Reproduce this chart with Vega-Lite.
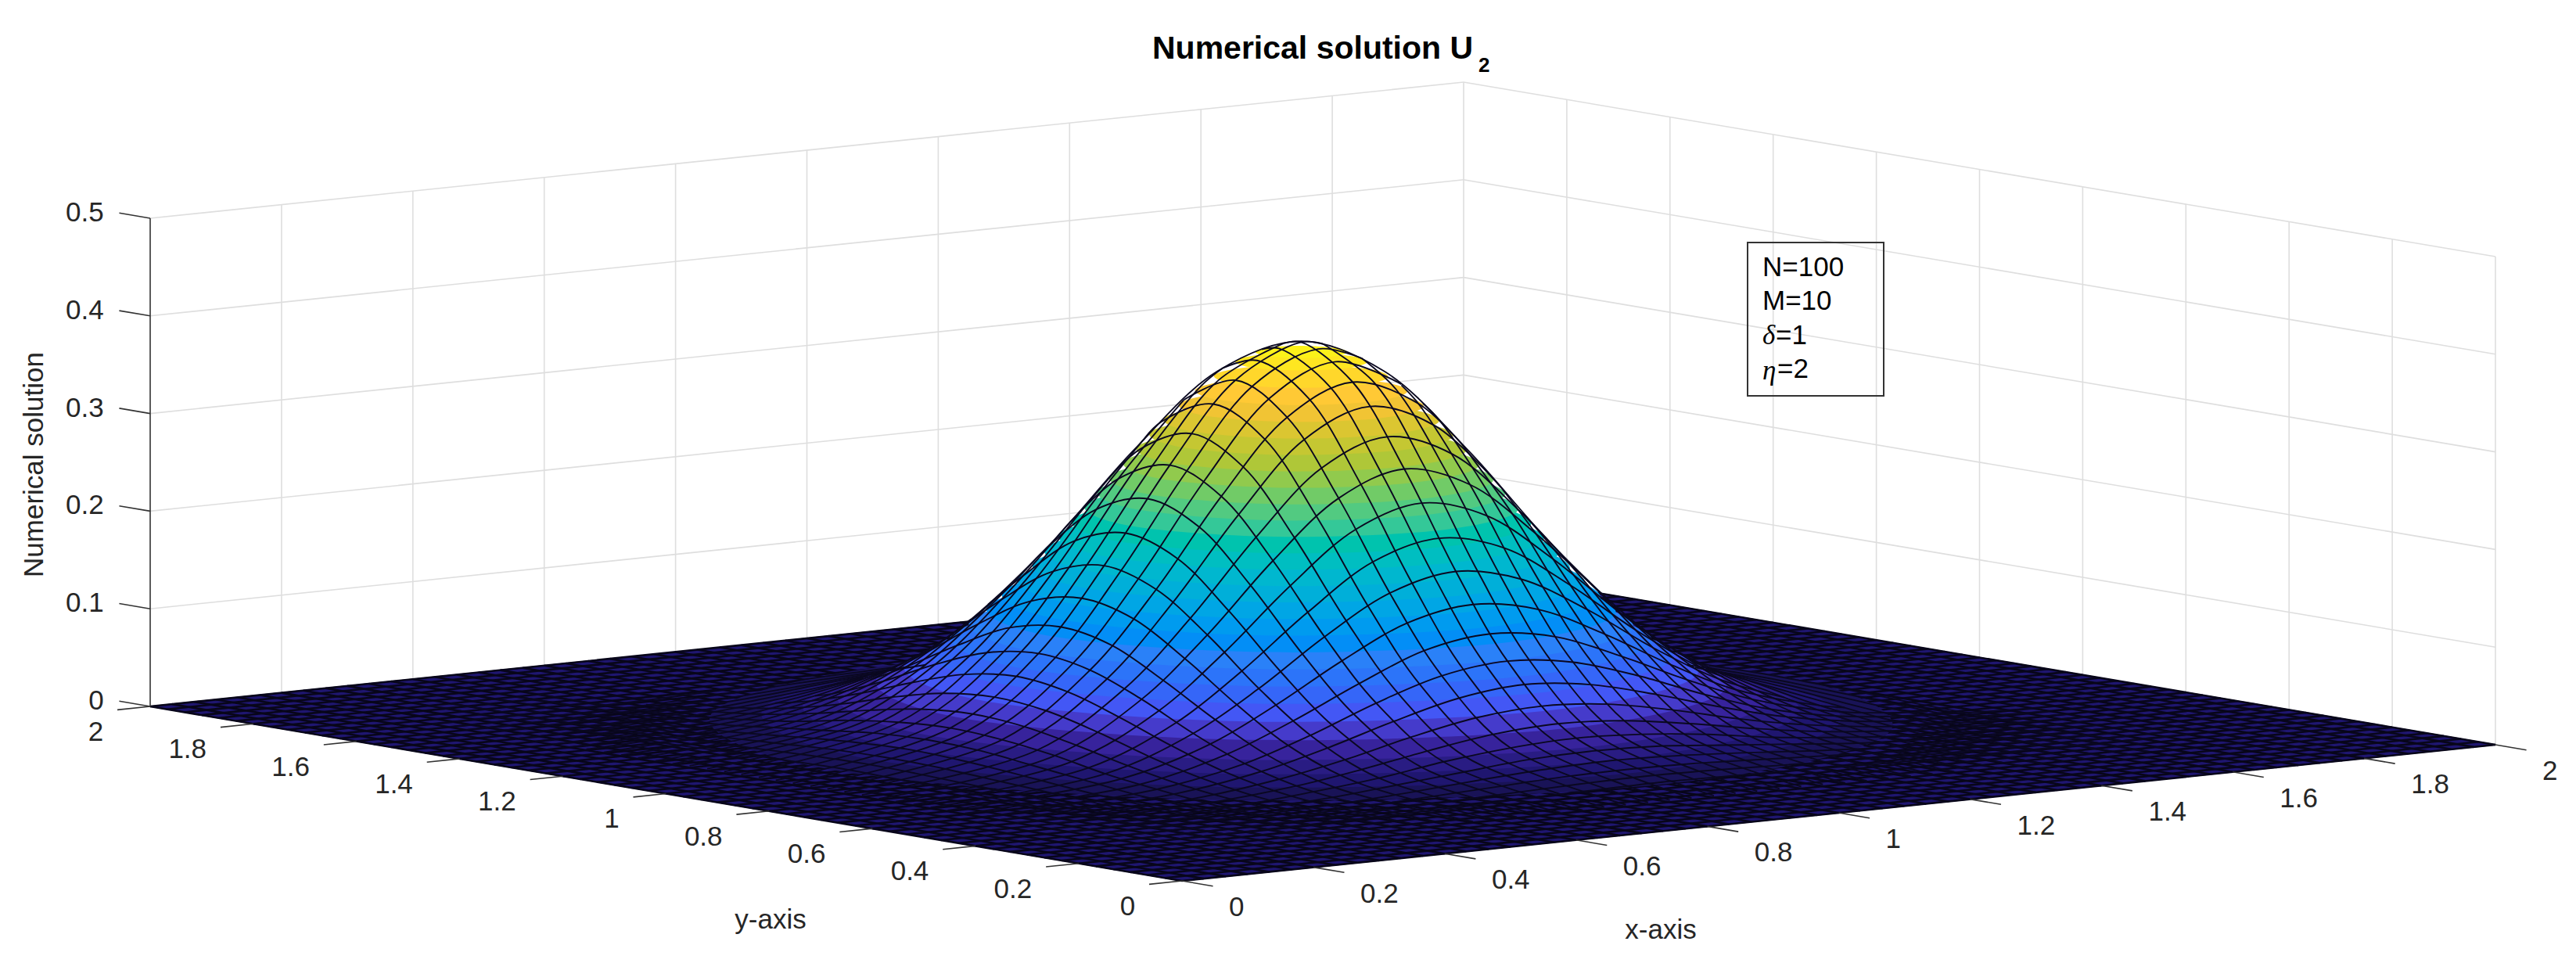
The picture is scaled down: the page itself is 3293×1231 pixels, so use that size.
{"$schema":"https://vega.github.io/schema/vega-lite/v6.json","width":3293,"height":1231,"autosize":"none","padding":0,"background":"white",
"title":{"text":"Numerical solution U","anchor":"start","frame":"group","offset":0,"dx":1473,"dy":116,"baseline":"alphabetic","font":"Liberation Sans","fontSize":41,"fontWeight":"bold","color":"#000000"},
"config":{"view":{"stroke":null}},
"encoding":{"x":{"field":"sx","type":"quantitative","scale":{"domain":[0,3293],"nice":false,"zero":false},"axis":null},"y":{"field":"sy","type":"quantitative","scale":{"domain":[1231,0],"nice":false,"zero":false},"axis":null}},
"datasets":{
"walls":[{"x":0,"y":2,"u":0.1,"x2":2,"y2":2,"u2":0.1},{"x":0,"y":2,"u":0.2,"x2":2,"y2":2,"u2":0.2},{"x":0,"y":2,"u":0.3,"x2":2,"y2":2,"u2":0.3},{"x":0,"y":2,"u":0.4,"x2":2,"y2":2,"u2":0.4},{"x":0,"y":2,"u":0.5,"x2":2,"y2":2,"u2":0.5},{"x":2,"y":2,"u":0.1,"x2":2,"y2":0,"u2":0.1},{"x":2,"y":2,"u":0.2,"x2":2,"y2":0,"u2":0.2},{"x":2,"y":2,"u":0.3,"x2":2,"y2":0,"u2":0.3},{"x":2,"y":2,"u":0.4,"x2":2,"y2":0,"u2":0.4},{"x":2,"y":2,"u":0.5,"x2":2,"y2":0,"u2":0.5},
{"x":0.2,"y":2,"u":0,"x2":0.2,"y2":2,"u2":0.5},{"x":0.4,"y":2,"u":0,"x2":0.4,"y2":2,"u2":0.5},{"x":0.6,"y":2,"u":0,"x2":0.6,"y2":2,"u2":0.5},{"x":0.8,"y":2,"u":0,"x2":0.8,"y2":2,"u2":0.5},{"x":1,"y":2,"u":0,"x2":1,"y2":2,"u2":0.5},{"x":1.2,"y":2,"u":0,"x2":1.2,"y2":2,"u2":0.5},{"x":1.4,"y":2,"u":0,"x2":1.4,"y2":2,"u2":0.5},{"x":1.6,"y":2,"u":0,"x2":1.6,"y2":2,"u2":0.5},{"x":1.8,"y":2,"u":0,"x2":1.8,"y2":2,"u2":0.5},{"x":2,"y":2,"u":0,"x2":2,"y2":2,"u2":0.5},
{"x":2,"y":1.8,"u":0,"x2":2,"y2":1.8,"u2":0.5},{"x":2,"y":1.6,"u":0,"x2":2,"y2":1.6,"u2":0.5},{"x":2,"y":1.4,"u":0,"x2":2,"y2":1.4,"u2":0.5},{"x":2,"y":1.2,"u":0,"x2":2,"y2":1.2,"u2":0.5},{"x":2,"y":1,"u":0,"x2":2,"y2":1,"u2":0.5},{"x":2,"y":0.8,"u":0,"x2":2,"y2":0.8,"u2":0.5},{"x":2,"y":0.6,"u":0,"x2":2,"y2":0.6,"u2":0.5},{"x":2,"y":0.4,"u":0,"x2":2,"y2":0.4,"u2":0.5},{"x":2,"y":0.2,"u":0,"x2":2,"y2":0.2,"u2":0.5},{"x":2,"y":0,"u":0,"x2":2,"y2":0,"u2":0.5}],
"axes":[{"x":0,"y":2,"u":0,"x2":0,"y2":2,"u2":0.5},{"x":0,"y":2,"u":0,"x2":0,"y2":2.06,"u2":0},{"x":0,"y":2,"u":0.1,"x2":0,"y2":2.06,"u2":0.1},{"x":0,"y":2,"u":0.2,"x2":0,"y2":2.06,"u2":0.2},{"x":0,"y":2,"u":0.3,"x2":0,"y2":2.06,"u2":0.3},{"x":0,"y":2,"u":0.4,"x2":0,"y2":2.06,"u2":0.4},{"x":0,"y":2,"u":0.5,"x2":0,"y2":2.06,"u2":0.5},
{"x":0,"y":0,"u":0,"x2":-0.05,"y2":0,"u2":0},{"x":0,"y":0.2,"u":0,"x2":-0.05,"y2":0.2,"u2":0},{"x":0,"y":0.4,"u":0,"x2":-0.05,"y2":0.4,"u2":0},{"x":0,"y":0.6,"u":0,"x2":-0.05,"y2":0.6,"u2":0},{"x":0,"y":0.8,"u":0,"x2":-0.05,"y2":0.8,"u2":0},{"x":0,"y":1,"u":0,"x2":-0.05,"y2":1,"u2":0},{"x":0,"y":1.2,"u":0,"x2":-0.05,"y2":1.2,"u2":0},{"x":0,"y":1.4,"u":0,"x2":-0.05,"y2":1.4,"u2":0},{"x":0,"y":1.6,"u":0,"x2":-0.05,"y2":1.6,"u2":0},{"x":0,"y":1.8,"u":0,"x2":-0.05,"y2":1.8,"u2":0},{"x":0,"y":2,"u":0,"x2":-0.05,"y2":2,"u2":0},
{"x":0,"y":0,"u":0,"x2":0,"y2":-0.06,"u2":0},{"x":0.2,"y":0,"u":0,"x2":0.2,"y2":-0.06,"u2":0},{"x":0.4,"y":0,"u":0,"x2":0.4,"y2":-0.06,"u2":0},{"x":0.6,"y":0,"u":0,"x2":0.6,"y2":-0.06,"u2":0},{"x":0.8,"y":0,"u":0,"x2":0.8,"y2":-0.06,"u2":0},{"x":1,"y":0,"u":0,"x2":1,"y2":-0.06,"u2":0},{"x":1.2,"y":0,"u":0,"x2":1.2,"y2":-0.06,"u2":0},{"x":1.4,"y":0,"u":0,"x2":1.4,"y2":-0.06,"u2":0},{"x":1.6,"y":0,"u":0,"x2":1.6,"y2":-0.06,"u2":0},{"x":1.8,"y":0,"u":0,"x2":1.8,"y2":-0.06,"u2":0},{"x":2,"y":0,"u":0,"x2":2,"y2":-0.06,"u2":0}],
"floor":[{"x":0,"y":0,"u":0},{"x":2,"y":0,"u":0},{"x":2,"y":2,"u":0},{"x":0,"y":2,"u":0}],
"mesh":[{"t":0},{"t":0.033},{"t":0.067},{"t":0.1},{"t":0.133},{"t":0.167},{"t":0.2},{"t":0.233},{"t":0.267},{"t":0.3},{"t":0.333},{"t":0.367},{"t":0.4},{"t":0.433},{"t":0.467},{"t":0.5},{"t":0.533},{"t":0.567},{"t":0.6},{"t":0.633},{"t":0.667},{"t":0.7},{"t":0.733},{"t":0.767},{"t":0.8},{"t":0.833},{"t":0.867},{"t":0.9},{"t":0.933},{"t":0.967},{"t":1},{"t":1.033},{"t":1.067},{"t":1.1},{"t":1.133},{"t":1.167},{"t":1.2},{"t":1.233},{"t":1.267},{"t":1.3},{"t":1.333},{"t":1.367},{"t":1.4},{"t":1.433},{"t":1.467},{"t":1.5},{"t":1.533},{"t":1.567},{"t":1.6},{"t":1.633},{"t":1.667},{"t":1.7},{"t":1.733},{"t":1.767},{"t":1.8},{"t":1.833},{"t":1.867},{"t":1.9},{"t":1.933},{"t":1.967},{"t":2}],
"rings":[
{"x":1.677,"y":1,"u":0.006},{"x":1.469,"y":1.502,"u":0.006},{"x":0.967,"y":1.71,"u":0.006},{"x":0.465,"y":1.502,"u":0.006},{"x":0.257,"y":1,"u":0.006},{"x":0.465,"y":0.498,"u":0.006},{"x":0.967,"y":0.29,"u":0.006},{"x":1.469,"y":0.498,"u":0.006},
{"x":1.615,"y":1,"u":0.012},{"x":1.425,"y":1.458,"u":0.012},{"x":0.967,"y":1.648,"u":0.012},{"x":0.509,"y":1.458,"u":0.012},{"x":0.319,"y":1,"u":0.012},{"x":0.509,"y":0.542,"u":0.012},{"x":0.967,"y":0.352,"u":0.012},{"x":1.425,"y":0.542,"u":0.012},
{"x":1.566,"y":1,"u":0.02},{"x":1.39,"y":1.423,"u":0.02},{"x":0.967,"y":1.599,"u":0.02},{"x":0.544,"y":1.423,"u":0.02},{"x":0.368,"y":1,"u":0.02},{"x":0.544,"y":0.577,"u":0.02},{"x":0.967,"y":0.401,"u":0.02},{"x":1.39,"y":0.577,"u":0.02},
{"x":1.524,"y":1,"u":0.03},{"x":1.361,"y":1.394,"u":0.03},{"x":0.967,"y":1.557,"u":0.03},{"x":0.573,"y":1.394,"u":0.03},{"x":0.41,"y":1,"u":0.03},{"x":0.573,"y":0.606,"u":0.03},{"x":0.967,"y":0.443,"u":0.03},{"x":1.361,"y":0.606,"u":0.03},
{"x":1.478,"y":1,"u":0.045},{"x":1.328,"y":1.361,"u":0.045},{"x":0.967,"y":1.511,"u":0.045},{"x":0.606,"y":1.361,"u":0.045},{"x":0.456,"y":1,"u":0.045},{"x":0.606,"y":0.639,"u":0.045},{"x":0.967,"y":0.489,"u":0.045},{"x":1.328,"y":0.639,"u":0.045},
{"x":1.443,"y":1,"u":0.06},{"x":1.304,"y":1.337,"u":0.06},{"x":0.967,"y":1.476,"u":0.06},{"x":0.63,"y":1.337,"u":0.06},{"x":0.491,"y":1,"u":0.06},{"x":0.63,"y":0.663,"u":0.06},{"x":0.967,"y":0.524,"u":0.06},{"x":1.304,"y":0.663,"u":0.06},
{"x":1.414,"y":1,"u":0.075},{"x":1.283,"y":1.316,"u":0.075},{"x":0.967,"y":1.447,"u":0.075},{"x":0.651,"y":1.316,"u":0.075},{"x":0.52,"y":1,"u":0.075},{"x":0.651,"y":0.684,"u":0.075},{"x":0.967,"y":0.553,"u":0.075},{"x":1.283,"y":0.684,"u":0.075},
{"x":1.389,"y":1,"u":0.09},{"x":1.265,"y":1.298,"u":0.09},{"x":0.967,"y":1.422,"u":0.09},{"x":0.669,"y":1.298,"u":0.09},{"x":0.545,"y":1,"u":0.09},{"x":0.669,"y":0.702,"u":0.09},{"x":0.967,"y":0.578,"u":0.09},{"x":1.265,"y":0.702,"u":0.09},
{"x":1.366,"y":1,"u":0.105},{"x":1.249,"y":1.282,"u":0.105},{"x":0.967,"y":1.399,"u":0.105},{"x":0.685,"y":1.282,"u":0.105},{"x":0.568,"y":1,"u":0.105},{"x":0.685,"y":0.718,"u":0.105},{"x":0.967,"y":0.601,"u":0.105},{"x":1.249,"y":0.718,"u":0.105},
{"x":1.345,"y":1,"u":0.12},{"x":1.234,"y":1.267,"u":0.12},{"x":0.967,"y":1.378,"u":0.12},{"x":0.7,"y":1.267,"u":0.12},{"x":0.589,"y":1,"u":0.12},{"x":0.7,"y":0.733,"u":0.12},{"x":0.967,"y":0.622,"u":0.12},{"x":1.234,"y":0.733,"u":0.12},
{"x":1.326,"y":1,"u":0.135},{"x":1.221,"y":1.254,"u":0.135},{"x":0.967,"y":1.359,"u":0.135},{"x":0.713,"y":1.254,"u":0.135},{"x":0.608,"y":1,"u":0.135},{"x":0.713,"y":0.746,"u":0.135},{"x":0.967,"y":0.641,"u":0.135},{"x":1.221,"y":0.746,"u":0.135},
{"x":1.308,"y":1,"u":0.15},{"x":1.208,"y":1.241,"u":0.15},{"x":0.967,"y":1.341,"u":0.15},{"x":0.726,"y":1.241,"u":0.15},{"x":0.626,"y":1,"u":0.15},{"x":0.726,"y":0.759,"u":0.15},{"x":0.967,"y":0.659,"u":0.15},{"x":1.208,"y":0.759,"u":0.15},
{"x":1.29,"y":1,"u":0.165},{"x":1.195,"y":1.228,"u":0.165},{"x":0.967,"y":1.323,"u":0.165},{"x":0.739,"y":1.228,"u":0.165},{"x":0.644,"y":1,"u":0.165},{"x":0.739,"y":0.772,"u":0.165},{"x":0.967,"y":0.677,"u":0.165},{"x":1.195,"y":0.772,"u":0.165},
{"x":1.275,"y":1,"u":0.18},{"x":1.185,"y":1.218,"u":0.18},{"x":0.967,"y":1.308,"u":0.18},{"x":0.749,"y":1.218,"u":0.18},{"x":0.659,"y":1,"u":0.18},{"x":0.749,"y":0.782,"u":0.18},{"x":0.967,"y":0.692,"u":0.18},{"x":1.185,"y":0.782,"u":0.18},
{"x":1.258,"y":1,"u":0.195},{"x":1.173,"y":1.206,"u":0.195},{"x":0.967,"y":1.291,"u":0.195},{"x":0.761,"y":1.206,"u":0.195},{"x":0.676,"y":1,"u":0.195},{"x":0.761,"y":0.794,"u":0.195},{"x":0.967,"y":0.709,"u":0.195},{"x":1.173,"y":0.794,"u":0.195},
{"x":1.243,"y":1,"u":0.21},{"x":1.162,"y":1.195,"u":0.21},{"x":0.967,"y":1.276,"u":0.21},{"x":0.772,"y":1.195,"u":0.21},{"x":0.691,"y":1,"u":0.21},{"x":0.772,"y":0.805,"u":0.21},{"x":0.967,"y":0.724,"u":0.21},{"x":1.162,"y":0.805,"u":0.21},
{"x":1.227,"y":1,"u":0.225},{"x":1.151,"y":1.184,"u":0.225},{"x":0.967,"y":1.26,"u":0.225},{"x":0.783,"y":1.184,"u":0.225},{"x":0.707,"y":1,"u":0.225},{"x":0.783,"y":0.816,"u":0.225},{"x":0.967,"y":0.74,"u":0.225},{"x":1.151,"y":0.816,"u":0.225},
{"x":1.211,"y":1,"u":0.24},{"x":1.14,"y":1.173,"u":0.24},{"x":0.967,"y":1.244,"u":0.24},{"x":0.794,"y":1.173,"u":0.24},{"x":0.723,"y":1,"u":0.24},{"x":0.794,"y":0.827,"u":0.24},{"x":0.967,"y":0.756,"u":0.24},{"x":1.14,"y":0.827,"u":0.24},
{"x":1.197,"y":1,"u":0.255},{"x":1.13,"y":1.163,"u":0.255},{"x":0.967,"y":1.23,"u":0.255},{"x":0.804,"y":1.163,"u":0.255},{"x":0.737,"y":1,"u":0.255},{"x":0.804,"y":0.837,"u":0.255},{"x":0.967,"y":0.77,"u":0.255},{"x":1.13,"y":0.837,"u":0.255},
{"x":1.181,"y":1,"u":0.27},{"x":1.118,"y":1.151,"u":0.27},{"x":0.967,"y":1.214,"u":0.27},{"x":0.816,"y":1.151,"u":0.27},{"x":0.753,"y":1,"u":0.27},{"x":0.816,"y":0.849,"u":0.27},{"x":0.967,"y":0.786,"u":0.27},{"x":1.118,"y":0.849,"u":0.27},
{"x":1.165,"y":1,"u":0.285},{"x":1.107,"y":1.14,"u":0.285},{"x":0.967,"y":1.198,"u":0.285},{"x":0.827,"y":1.14,"u":0.285},{"x":0.769,"y":1,"u":0.285},{"x":0.827,"y":0.86,"u":0.285},{"x":0.967,"y":0.802,"u":0.285},{"x":1.107,"y":0.86,"u":0.285},
{"x":1.149,"y":1,"u":0.3},{"x":1.096,"y":1.129,"u":0.3},{"x":0.967,"y":1.182,"u":0.3},{"x":0.838,"y":1.129,"u":0.3},{"x":0.785,"y":1,"u":0.3},{"x":0.838,"y":0.871,"u":0.3},{"x":0.967,"y":0.818,"u":0.3},{"x":1.096,"y":0.871,"u":0.3},
{"x":1.132,"y":1,"u":0.315},{"x":1.084,"y":1.117,"u":0.315},{"x":0.967,"y":1.165,"u":0.315},{"x":0.85,"y":1.117,"u":0.315},{"x":0.802,"y":1,"u":0.315},{"x":0.85,"y":0.883,"u":0.315},{"x":0.967,"y":0.835,"u":0.315},{"x":1.084,"y":0.883,"u":0.315},
{"x":1.114,"y":1,"u":0.33},{"x":1.071,"y":1.104,"u":0.33},{"x":0.967,"y":1.147,"u":0.33},{"x":0.863,"y":1.104,"u":0.33},{"x":0.82,"y":1,"u":0.33},{"x":0.863,"y":0.896,"u":0.33},{"x":0.967,"y":0.853,"u":0.33},{"x":1.071,"y":0.896,"u":0.33},
{"x":1.094,"y":1,"u":0.345},{"x":1.057,"y":1.09,"u":0.345},{"x":0.967,"y":1.127,"u":0.345},{"x":0.877,"y":1.09,"u":0.345},{"x":0.84,"y":1,"u":0.345},{"x":0.877,"y":0.91,"u":0.345},{"x":0.967,"y":0.873,"u":0.345},{"x":1.057,"y":0.91,"u":0.345},
{"x":1.072,"y":1,"u":0.36},{"x":1.041,"y":1.074,"u":0.36},{"x":0.967,"y":1.105,"u":0.36},{"x":0.893,"y":1.074,"u":0.36},{"x":0.862,"y":1,"u":0.36},{"x":0.893,"y":0.926,"u":0.36},{"x":0.967,"y":0.895,"u":0.36},{"x":1.041,"y":0.926,"u":0.36},
{"x":1.046,"y":1,"u":0.375},{"x":1.023,"y":1.056,"u":0.375},{"x":0.967,"y":1.079,"u":0.375},{"x":0.911,"y":1.056,"u":0.375},{"x":0.888,"y":1,"u":0.375},{"x":0.911,"y":0.944,"u":0.375},{"x":0.967,"y":0.921,"u":0.375},{"x":1.023,"y":0.944,"u":0.375},
{"x":1.022,"y":1,"u":0.385},{"x":1.006,"y":1.039,"u":0.385},{"x":0.967,"y":1.056,"u":0.385},{"x":0.928,"y":1.039,"u":0.385},{"x":0.912,"y":1,"u":0.385},{"x":0.928,"y":0.961,"u":0.385},{"x":0.967,"y":0.944,"u":0.385},{"x":1.006,"y":0.961,"u":0.385}],
"alongX":[
{"x":0.167,"y":0.3,"u":0},{"x":0.433,"y":0.3,"u":0.001},{"x":0.567,"y":0.3,"u":0.002},{"x":0.667,"y":0.3,"u":0.003},{"x":0.767,"y":0.3,"u":0.005},{"x":0.867,"y":0.3,"u":0.006},{"x":0.967,"y":0.3,"u":0.007},{"x":1.067,"y":0.3,"u":0.006},{"x":1.167,"y":0.3,"u":0.005},{"x":1.267,"y":0.3,"u":0.003},{"x":1.367,"y":0.3,"u":0.002},{"x":1.5,"y":0.3,"u":0.001},{"x":1.767,"y":0.3,"u":0},
{"x":0.167,"y":0.333,"u":0},{"x":0.433,"y":0.333,"u":0.001},{"x":0.567,"y":0.333,"u":0.003},{"x":0.667,"y":0.333,"u":0.005},{"x":0.767,"y":0.333,"u":0.007},{"x":0.867,"y":0.333,"u":0.009},{"x":0.967,"y":0.333,"u":0.01},{"x":1.067,"y":0.333,"u":0.009},{"x":1.167,"y":0.333,"u":0.007},{"x":1.267,"y":0.333,"u":0.005},{"x":1.367,"y":0.333,"u":0.003},{"x":1.5,"y":0.333,"u":0.001},{"x":1.767,"y":0.333,"u":0},
{"x":0.167,"y":0.367,"u":0},{"x":0.433,"y":0.367,"u":0.001},{"x":0.567,"y":0.367,"u":0.004},{"x":0.667,"y":0.367,"u":0.007},{"x":0.767,"y":0.367,"u":0.01},{"x":0.867,"y":0.367,"u":0.013},{"x":0.967,"y":0.367,"u":0.014},{"x":1.067,"y":0.367,"u":0.013},{"x":1.167,"y":0.367,"u":0.01},{"x":1.267,"y":0.367,"u":0.007},{"x":1.367,"y":0.367,"u":0.004},{"x":1.5,"y":0.367,"u":0.001},{"x":1.767,"y":0.367,"u":0},
{"x":0.167,"y":0.4,"u":0},{"x":0.433,"y":0.4,"u":0.002},{"x":0.567,"y":0.4,"u":0.005},{"x":0.667,"y":0.4,"u":0.009},{"x":0.767,"y":0.4,"u":0.014},{"x":0.867,"y":0.4,"u":0.018},{"x":0.967,"y":0.4,"u":0.02},{"x":1.067,"y":0.4,"u":0.018},{"x":1.167,"y":0.4,"u":0.014},{"x":1.267,"y":0.4,"u":0.009},{"x":1.367,"y":0.4,"u":0.005},{"x":1.5,"y":0.4,"u":0.002},{"x":1.767,"y":0.4,"u":0},
{"x":0.167,"y":0.433,"u":0},{"x":0.433,"y":0.433,"u":0.003},{"x":0.567,"y":0.433,"u":0.007},{"x":0.667,"y":0.433,"u":0.013},{"x":0.767,"y":0.433,"u":0.019},{"x":0.867,"y":0.433,"u":0.025},{"x":0.967,"y":0.433,"u":0.027},{"x":1.067,"y":0.433,"u":0.025},{"x":1.167,"y":0.433,"u":0.019},{"x":1.267,"y":0.433,"u":0.013},{"x":1.367,"y":0.433,"u":0.007},{"x":1.5,"y":0.433,"u":0.003},{"x":1.767,"y":0.433,"u":0},
{"x":0.167,"y":0.467,"u":0},{"x":0.433,"y":0.467,"u":0.003},{"x":0.567,"y":0.467,"u":0.01},{"x":0.667,"y":0.467,"u":0.017},{"x":0.767,"y":0.467,"u":0.027},{"x":0.867,"y":0.467,"u":0.034},{"x":0.967,"y":0.467,"u":0.037},{"x":1.067,"y":0.467,"u":0.034},{"x":1.167,"y":0.467,"u":0.027},{"x":1.267,"y":0.467,"u":0.017},{"x":1.367,"y":0.467,"u":0.01},{"x":1.5,"y":0.467,"u":0.003},{"x":1.767,"y":0.467,"u":0},
{"x":0.167,"y":0.5,"u":0},{"x":0.433,"y":0.5,"u":0.005},{"x":0.567,"y":0.5,"u":0.013},{"x":0.667,"y":0.5,"u":0.023},{"x":0.767,"y":0.5,"u":0.035},{"x":0.867,"y":0.5,"u":0.045},{"x":0.967,"y":0.5,"u":0.049},{"x":1.067,"y":0.5,"u":0.045},{"x":1.167,"y":0.5,"u":0.035},{"x":1.267,"y":0.5,"u":0.023},{"x":1.367,"y":0.5,"u":0.013},{"x":1.5,"y":0.5,"u":0.005},{"x":1.767,"y":0.5,"u":0},
{"x":0.167,"y":0.533,"u":0},{"x":0.433,"y":0.533,"u":0.006},{"x":0.567,"y":0.533,"u":0.017},{"x":0.667,"y":0.533,"u":0.03},{"x":0.767,"y":0.533,"u":0.046},{"x":0.867,"y":0.533,"u":0.059},{"x":0.967,"y":0.533,"u":0.064},{"x":1.067,"y":0.533,"u":0.059},{"x":1.167,"y":0.533,"u":0.046},{"x":1.267,"y":0.533,"u":0.03},{"x":1.367,"y":0.533,"u":0.017},{"x":1.5,"y":0.533,"u":0.006},{"x":1.767,"y":0.533,"u":0},
{"x":0.167,"y":0.567,"u":0},{"x":0.433,"y":0.567,"u":0.008},{"x":0.567,"y":0.567,"u":0.022},{"x":0.667,"y":0.567,"u":0.039},{"x":0.767,"y":0.567,"u":0.059},{"x":0.867,"y":0.567,"u":0.076},{"x":0.967,"y":0.567,"u":0.083},{"x":1.067,"y":0.567,"u":0.076},{"x":1.167,"y":0.567,"u":0.059},{"x":1.267,"y":0.567,"u":0.039},{"x":1.367,"y":0.567,"u":0.022},{"x":1.5,"y":0.567,"u":0.008},{"x":1.767,"y":0.567,"u":0},
{"x":0.167,"y":0.6,"u":0},{"x":0.433,"y":0.6,"u":0.01},{"x":0.567,"y":0.6,"u":0.027},{"x":0.667,"y":0.6,"u":0.049},{"x":0.767,"y":0.6,"u":0.075},{"x":0.867,"y":0.6,"u":0.096},{"x":0.967,"y":0.6,"u":0.104},{"x":1.067,"y":0.6,"u":0.096},{"x":1.167,"y":0.6,"u":0.075},{"x":1.267,"y":0.6,"u":0.049},{"x":1.367,"y":0.6,"u":0.027},{"x":1.5,"y":0.6,"u":0.01},{"x":1.767,"y":0.6,"u":0},
{"x":0.167,"y":0.633,"u":0.001},{"x":0.433,"y":0.633,"u":0.012},{"x":0.567,"y":0.633,"u":0.034},{"x":0.667,"y":0.633,"u":0.061},{"x":0.767,"y":0.633,"u":0.092},{"x":0.867,"y":0.633,"u":0.119},{"x":0.967,"y":0.633,"u":0.129},{"x":1.067,"y":0.633,"u":0.119},{"x":1.167,"y":0.633,"u":0.092},{"x":1.267,"y":0.633,"u":0.061},{"x":1.367,"y":0.633,"u":0.034},{"x":1.5,"y":0.633,"u":0.012},{"x":1.633,"y":0.633,"u":0.003},
{"x":0.167,"y":0.667,"u":0.001},{"x":0.433,"y":0.667,"u":0.015},{"x":0.567,"y":0.667,"u":0.041},{"x":0.667,"y":0.667,"u":0.074},{"x":0.767,"y":0.667,"u":0.112},{"x":0.867,"y":0.667,"u":0.144},{"x":0.967,"y":0.667,"u":0.156},{"x":1.067,"y":0.667,"u":0.144},{"x":1.167,"y":0.667,"u":0.112},{"x":1.267,"y":0.667,"u":0.074},{"x":1.367,"y":0.667,"u":0.041},{"x":1.5,"y":0.667,"u":0.015},{"x":1.533,"y":0.667,"u":0.011},
{"x":0.167,"y":0.7,"u":0.001},{"x":0.433,"y":0.7,"u":0.017},{"x":0.567,"y":0.7,"u":0.049},{"x":0.667,"y":0.7,"u":0.088},{"x":0.767,"y":0.7,"u":0.134},{"x":0.867,"y":0.7,"u":0.172},{"x":0.967,"y":0.7,"u":0.187},{"x":1.067,"y":0.7,"u":0.172},{"x":1.167,"y":0.7,"u":0.134},{"x":1.267,"y":0.7,"u":0.088},{"x":1.367,"y":0.7,"u":0.049},{"x":1.467,"y":0.7,"u":0.023},
{"x":0.167,"y":0.733,"u":0.001},{"x":0.433,"y":0.733,"u":0.02},{"x":0.567,"y":0.733,"u":0.057},{"x":0.667,"y":0.733,"u":0.103},{"x":0.767,"y":0.733,"u":0.156},{"x":0.867,"y":0.733,"u":0.201},{"x":0.967,"y":0.733,"u":0.218},{"x":1.067,"y":0.733,"u":0.201},{"x":1.167,"y":0.733,"u":0.156},{"x":1.267,"y":0.733,"u":0.103},{"x":1.367,"y":0.733,"u":0.057},{"x":1.4,"y":0.733,"u":0.046},
{"x":0.167,"y":0.767,"u":0.001},{"x":0.433,"y":0.767,"u":0.023},{"x":0.567,"y":0.767,"u":0.066},{"x":0.667,"y":0.767,"u":0.119},{"x":0.767,"y":0.767,"u":0.18},{"x":0.867,"y":0.767,"u":0.231},{"x":0.967,"y":0.767,"u":0.251},{"x":1.067,"y":0.767,"u":0.231},{"x":1.167,"y":0.767,"u":0.18},{"x":1.267,"y":0.767,"u":0.119},{"x":1.333,"y":0.767,"u":0.082},
{"x":0.167,"y":0.8,"u":0.001},{"x":0.433,"y":0.8,"u":0.026},{"x":0.567,"y":0.8,"u":0.075},{"x":0.667,"y":0.8,"u":0.134},{"x":0.767,"y":0.8,"u":0.203},{"x":0.867,"y":0.8,"u":0.26},{"x":0.967,"y":0.8,"u":0.283},{"x":1.067,"y":0.8,"u":0.26},{"x":1.167,"y":0.8,"u":0.203},{"x":1.267,"y":0.8,"u":0.134},
{"x":0.167,"y":0.833,"u":0.002},{"x":0.433,"y":0.833,"u":0.029},{"x":0.567,"y":0.833,"u":0.083},{"x":0.667,"y":0.833,"u":0.148},{"x":0.767,"y":0.833,"u":0.224},{"x":0.867,"y":0.833,"u":0.288},{"x":0.967,"y":0.833,"u":0.313},{"x":1.067,"y":0.833,"u":0.288},{"x":1.167,"y":0.833,"u":0.224},{"x":1.233,"y":0.833,"u":0.173},
{"x":0.167,"y":0.867,"u":0.002},{"x":0.433,"y":0.867,"u":0.032},{"x":0.567,"y":0.867,"u":0.09},{"x":0.667,"y":0.867,"u":0.161},{"x":0.767,"y":0.867,"u":0.244},{"x":0.867,"y":0.867,"u":0.314},{"x":0.967,"y":0.867,"u":0.341},{"x":1.067,"y":0.867,"u":0.314},{"x":1.167,"y":0.867,"u":0.244},
{"x":0.167,"y":0.9,"u":0.002},{"x":0.433,"y":0.9,"u":0.034},{"x":0.567,"y":0.9,"u":0.096},{"x":0.667,"y":0.9,"u":0.171},{"x":0.767,"y":0.9,"u":0.26},{"x":0.867,"y":0.9,"u":0.334},{"x":0.967,"y":0.9,"u":0.363},{"x":1.067,"y":0.9,"u":0.334},{"x":1.133,"y":0.9,"u":0.288},
{"x":0.167,"y":0.933,"u":0.002},{"x":0.433,"y":0.933,"u":0.036},{"x":0.567,"y":0.933,"u":0.1},{"x":0.667,"y":0.933,"u":0.18},{"x":0.767,"y":0.933,"u":0.273},{"x":0.867,"y":0.933,"u":0.351},{"x":0.967,"y":0.933,"u":0.381},{"x":1.067,"y":0.933,"u":0.351},
{"x":0.167,"y":0.967,"u":0.002},{"x":0.433,"y":0.967,"u":0.037},{"x":0.567,"y":0.967,"u":0.103},{"x":0.667,"y":0.967,"u":0.185},{"x":0.767,"y":0.967,"u":0.28},{"x":0.867,"y":0.967,"u":0.36},{"x":0.967,"y":0.967,"u":0.391},{"x":1.033,"y":0.967,"u":0.377},
{"x":0.167,"y":1,"u":0.002},{"x":0.433,"y":1,"u":0.037},{"x":0.567,"y":1,"u":0.104},{"x":0.667,"y":1,"u":0.187},{"x":0.767,"y":1,"u":0.283},{"x":0.867,"y":1,"u":0.363},{"x":0.967,"y":1,"u":0.395},{"x":1,"y":1,"u":0.391},
{"x":0.167,"y":1.033,"u":0.002},{"x":0.433,"y":1.033,"u":0.037},{"x":0.567,"y":1.033,"u":0.103},{"x":0.667,"y":1.033,"u":0.185},{"x":0.767,"y":1.033,"u":0.28},{"x":0.867,"y":1.033,"u":0.36},{"x":0.967,"y":1.033,"u":0.391},
{"x":0.167,"y":1.067,"u":0.002},{"x":0.433,"y":1.067,"u":0.036},{"x":0.567,"y":1.067,"u":0.1},{"x":0.667,"y":1.067,"u":0.18},{"x":0.767,"y":1.067,"u":0.273},{"x":0.867,"y":1.067,"u":0.351},{"x":0.9,"y":1.067,"u":0.367},
{"x":0.167,"y":1.1,"u":0.002},{"x":0.433,"y":1.1,"u":0.034},{"x":0.567,"y":1.1,"u":0.096},{"x":0.667,"y":1.1,"u":0.171},{"x":0.767,"y":1.1,"u":0.26},{"x":0.867,"y":1.1,"u":0.334},
{"x":0.167,"y":1.133,"u":0.002},{"x":0.433,"y":1.133,"u":0.032},{"x":0.567,"y":1.133,"u":0.09},{"x":0.667,"y":1.133,"u":0.161},{"x":0.767,"y":1.133,"u":0.244},{"x":0.833,"y":1.133,"u":0.294},
{"x":0.167,"y":1.167,"u":0.002},{"x":0.433,"y":1.167,"u":0.029},{"x":0.567,"y":1.167,"u":0.083},{"x":0.667,"y":1.167,"u":0.148},{"x":0.767,"y":1.167,"u":0.224},{"x":0.8,"y":1.167,"u":0.248},
{"x":0.167,"y":1.2,"u":0.001},{"x":0.433,"y":1.2,"u":0.026},{"x":0.567,"y":1.2,"u":0.075},{"x":0.667,"y":1.2,"u":0.134},{"x":0.767,"y":1.2,"u":0.203},
{"x":0.167,"y":1.233,"u":0.001},{"x":0.433,"y":1.233,"u":0.023},{"x":0.567,"y":1.233,"u":0.066},{"x":0.667,"y":1.233,"u":0.119},{"x":0.733,"y":1.233,"u":0.159},
{"x":0.167,"y":1.267,"u":0.001},{"x":0.433,"y":1.267,"u":0.02},{"x":0.567,"y":1.267,"u":0.057},{"x":0.667,"y":1.267,"u":0.103},{"x":0.733,"y":1.267,"u":0.138},
{"x":0.167,"y":1.3,"u":0.001},{"x":0.433,"y":1.3,"u":0.017},{"x":0.567,"y":1.3,"u":0.049},{"x":0.667,"y":1.3,"u":0.088},{"x":0.7,"y":1.3,"u":0.103},
{"x":0.167,"y":1.333,"u":0.001},{"x":0.433,"y":1.333,"u":0.015},{"x":0.567,"y":1.333,"u":0.041},{"x":0.667,"y":1.333,"u":0.074},{"x":0.7,"y":1.333,"u":0.086},
{"x":0.167,"y":1.367,"u":0.001},{"x":0.433,"y":1.367,"u":0.012},{"x":0.567,"y":1.367,"u":0.034},{"x":0.667,"y":1.367,"u":0.061},
{"x":0.167,"y":1.4,"u":0},{"x":0.433,"y":1.4,"u":0.01},{"x":0.567,"y":1.4,"u":0.027},{"x":0.667,"y":1.4,"u":0.049},
{"x":0.167,"y":1.433,"u":0},{"x":0.433,"y":1.433,"u":0.008},{"x":0.567,"y":1.433,"u":0.022},{"x":0.667,"y":1.433,"u":0.039},
{"x":0.167,"y":1.467,"u":0},{"x":0.433,"y":1.467,"u":0.006},{"x":0.567,"y":1.467,"u":0.017},{"x":0.667,"y":1.467,"u":0.03},
{"x":0.167,"y":1.5,"u":0},{"x":0.433,"y":1.5,"u":0.005},{"x":0.567,"y":1.5,"u":0.013},{"x":0.667,"y":1.5,"u":0.023},{"x":0.7,"y":1.5,"u":0.027},
{"x":0.167,"y":1.533,"u":0},{"x":0.433,"y":1.533,"u":0.003},{"x":0.567,"y":1.533,"u":0.01},{"x":0.667,"y":1.533,"u":0.017},{"x":0.733,"y":1.533,"u":0.024},
{"x":0.167,"y":1.567,"u":0},{"x":0.433,"y":1.567,"u":0.003},{"x":0.567,"y":1.567,"u":0.007},{"x":0.667,"y":1.567,"u":0.013},{"x":0.767,"y":1.567,"u":0.019},
{"x":0.167,"y":1.6,"u":0},{"x":0.433,"y":1.6,"u":0.002},{"x":0.567,"y":1.6,"u":0.005},{"x":0.667,"y":1.6,"u":0.009},{"x":0.767,"y":1.6,"u":0.014},{"x":0.867,"y":1.6,"u":0.018},
{"x":0.167,"y":1.633,"u":0},{"x":0.433,"y":1.633,"u":0.001},{"x":0.567,"y":1.633,"u":0.004},{"x":0.667,"y":1.633,"u":0.007},{"x":0.767,"y":1.633,"u":0.01},{"x":0.867,"y":1.633,"u":0.013},
{"x":0.167,"y":1.667,"u":0},{"x":0.433,"y":1.667,"u":0.001},{"x":0.567,"y":1.667,"u":0.003},{"x":0.667,"y":1.667,"u":0.005},{"x":0.767,"y":1.667,"u":0.007},{"x":0.867,"y":1.667,"u":0.009}],
"alongY":[
{"x":0.267,"y":0.2,"u":0},{"x":0.267,"y":0.467,"u":0.001},{"x":0.267,"y":0.6,"u":0.002},{"x":0.267,"y":0.7,"u":0.003},{"x":0.267,"y":0.8,"u":0.005},{"x":0.267,"y":0.9,"u":0.006},{"x":0.267,"y":1,"u":0.007},{"x":0.267,"y":1.1,"u":0.006},{"x":0.267,"y":1.2,"u":0.005},{"x":0.267,"y":1.3,"u":0.003},{"x":0.267,"y":1.4,"u":0.002},{"x":0.267,"y":1.533,"u":0.001},{"x":0.267,"y":1.8,"u":0},
{"x":0.3,"y":0.2,"u":0},{"x":0.3,"y":0.467,"u":0.001},{"x":0.3,"y":0.6,"u":0.003},{"x":0.3,"y":0.7,"u":0.005},{"x":0.3,"y":0.8,"u":0.007},{"x":0.3,"y":0.9,"u":0.009},{"x":0.3,"y":1,"u":0.01},{"x":0.3,"y":1.1,"u":0.009},{"x":0.3,"y":1.2,"u":0.007},{"x":0.3,"y":1.3,"u":0.005},{"x":0.3,"y":1.4,"u":0.003},{"x":0.3,"y":1.533,"u":0.001},{"x":0.3,"y":1.8,"u":0},
{"x":0.333,"y":0.2,"u":0},{"x":0.333,"y":0.467,"u":0.001},{"x":0.333,"y":0.6,"u":0.004},{"x":0.333,"y":0.7,"u":0.007},{"x":0.333,"y":0.8,"u":0.01},{"x":0.333,"y":0.9,"u":0.013},{"x":0.333,"y":1,"u":0.014},{"x":0.333,"y":1.1,"u":0.013},{"x":0.333,"y":1.2,"u":0.01},{"x":0.333,"y":1.3,"u":0.007},{"x":0.333,"y":1.4,"u":0.004},{"x":0.333,"y":1.533,"u":0.001},{"x":0.333,"y":1.8,"u":0},
{"x":0.367,"y":0.2,"u":0},{"x":0.367,"y":0.467,"u":0.002},{"x":0.367,"y":0.6,"u":0.005},{"x":0.367,"y":0.7,"u":0.009},{"x":0.367,"y":0.8,"u":0.014},{"x":0.367,"y":0.9,"u":0.018},{"x":0.367,"y":1,"u":0.02},{"x":0.367,"y":1.1,"u":0.018},{"x":0.367,"y":1.2,"u":0.014},{"x":0.367,"y":1.3,"u":0.009},{"x":0.367,"y":1.4,"u":0.005},{"x":0.367,"y":1.533,"u":0.002},{"x":0.367,"y":1.8,"u":0},
{"x":0.4,"y":0.2,"u":0},{"x":0.4,"y":0.467,"u":0.003},{"x":0.4,"y":0.6,"u":0.007},{"x":0.4,"y":0.7,"u":0.013},{"x":0.4,"y":0.8,"u":0.019},{"x":0.4,"y":0.9,"u":0.025},{"x":0.4,"y":1,"u":0.027},{"x":0.4,"y":1.1,"u":0.025},{"x":0.4,"y":1.2,"u":0.019},{"x":0.4,"y":1.3,"u":0.013},{"x":0.4,"y":1.4,"u":0.007},{"x":0.4,"y":1.533,"u":0.003},{"x":0.4,"y":1.8,"u":0},
{"x":0.433,"y":0.2,"u":0},{"x":0.433,"y":0.467,"u":0.003},{"x":0.433,"y":0.6,"u":0.01},{"x":0.433,"y":0.7,"u":0.017},{"x":0.433,"y":0.8,"u":0.027},{"x":0.433,"y":0.9,"u":0.034},{"x":0.433,"y":1,"u":0.037},{"x":0.433,"y":1.1,"u":0.034},{"x":0.433,"y":1.2,"u":0.027},{"x":0.433,"y":1.3,"u":0.017},{"x":0.433,"y":1.4,"u":0.01},{"x":0.433,"y":1.533,"u":0.003},{"x":0.433,"y":1.8,"u":0},
{"x":0.467,"y":0.2,"u":0},{"x":0.467,"y":0.467,"u":0.005},{"x":0.467,"y":0.6,"u":0.013},{"x":0.467,"y":0.7,"u":0.023},{"x":0.467,"y":0.8,"u":0.035},{"x":0.467,"y":0.9,"u":0.045},{"x":0.467,"y":1,"u":0.049},{"x":0.467,"y":1.1,"u":0.045},{"x":0.467,"y":1.2,"u":0.035},{"x":0.467,"y":1.3,"u":0.023},{"x":0.467,"y":1.4,"u":0.013},{"x":0.467,"y":1.533,"u":0.005},{"x":0.467,"y":1.633,"u":0.002},
{"x":0.5,"y":0.2,"u":0},{"x":0.5,"y":0.467,"u":0.006},{"x":0.5,"y":0.6,"u":0.017},{"x":0.5,"y":0.7,"u":0.03},{"x":0.5,"y":0.8,"u":0.046},{"x":0.5,"y":0.9,"u":0.059},{"x":0.5,"y":1,"u":0.064},{"x":0.5,"y":1.1,"u":0.059},{"x":0.5,"y":1.2,"u":0.046},{"x":0.5,"y":1.3,"u":0.03},{"x":0.5,"y":1.4,"u":0.017},{"x":0.5,"y":1.533,"u":0.006},
{"x":0.533,"y":0.2,"u":0},{"x":0.533,"y":0.467,"u":0.008},{"x":0.533,"y":0.6,"u":0.022},{"x":0.533,"y":0.7,"u":0.039},{"x":0.533,"y":0.8,"u":0.059},{"x":0.533,"y":0.9,"u":0.076},{"x":0.533,"y":1,"u":0.083},{"x":0.533,"y":1.1,"u":0.076},{"x":0.533,"y":1.2,"u":0.059},{"x":0.533,"y":1.3,"u":0.039},{"x":0.533,"y":1.4,"u":0.022},{"x":0.533,"y":1.467,"u":0.014},
{"x":0.567,"y":0.2,"u":0},{"x":0.567,"y":0.467,"u":0.01},{"x":0.567,"y":0.6,"u":0.027},{"x":0.567,"y":0.7,"u":0.049},{"x":0.567,"y":0.8,"u":0.075},{"x":0.567,"y":0.9,"u":0.096},{"x":0.567,"y":1,"u":0.104},{"x":0.567,"y":1.1,"u":0.096},{"x":0.567,"y":1.2,"u":0.075},{"x":0.567,"y":1.3,"u":0.049},{"x":0.567,"y":1.4,"u":0.027},{"x":0.567,"y":1.433,"u":0.022},
{"x":0.6,"y":0.2,"u":0.001},{"x":0.6,"y":0.467,"u":0.012},{"x":0.6,"y":0.6,"u":0.034},{"x":0.6,"y":0.7,"u":0.061},{"x":0.6,"y":0.8,"u":0.092},{"x":0.6,"y":0.9,"u":0.119},{"x":0.6,"y":1,"u":0.129},{"x":0.6,"y":1.1,"u":0.119},{"x":0.6,"y":1.2,"u":0.092},{"x":0.6,"y":1.3,"u":0.061},{"x":0.6,"y":1.367,"u":0.042},
{"x":0.633,"y":0.2,"u":0.001},{"x":0.633,"y":0.467,"u":0.015},{"x":0.633,"y":0.6,"u":0.041},{"x":0.633,"y":0.7,"u":0.074},{"x":0.633,"y":0.8,"u":0.112},{"x":0.633,"y":0.9,"u":0.144},{"x":0.633,"y":1,"u":0.156},{"x":0.633,"y":1.1,"u":0.144},{"x":0.633,"y":1.2,"u":0.112},{"x":0.633,"y":1.3,"u":0.074},{"x":0.633,"y":1.333,"u":0.062},
{"x":0.667,"y":0.2,"u":0.001},{"x":0.667,"y":0.467,"u":0.017},{"x":0.667,"y":0.6,"u":0.049},{"x":0.667,"y":0.7,"u":0.088},{"x":0.667,"y":0.8,"u":0.134},{"x":0.667,"y":0.9,"u":0.172},{"x":0.667,"y":1,"u":0.187},{"x":0.667,"y":1.1,"u":0.172},{"x":0.667,"y":1.2,"u":0.134},{"x":0.667,"y":1.3,"u":0.088},
{"x":0.7,"y":0.2,"u":0.001},{"x":0.7,"y":0.467,"u":0.02},{"x":0.7,"y":0.6,"u":0.057},{"x":0.7,"y":0.7,"u":0.103},{"x":0.7,"y":0.8,"u":0.156},{"x":0.7,"y":0.9,"u":0.201},{"x":0.7,"y":1,"u":0.218},{"x":0.7,"y":1.1,"u":0.201},{"x":0.7,"y":1.2,"u":0.156},{"x":0.7,"y":1.267,"u":0.121},
{"x":0.733,"y":0.2,"u":0.001},{"x":0.733,"y":0.467,"u":0.023},{"x":0.733,"y":0.6,"u":0.066},{"x":0.733,"y":0.7,"u":0.119},{"x":0.733,"y":0.8,"u":0.18},{"x":0.733,"y":0.9,"u":0.231},{"x":0.733,"y":1,"u":0.251},{"x":0.733,"y":1.1,"u":0.231},{"x":0.733,"y":1.2,"u":0.18},{"x":0.733,"y":1.233,"u":0.159},
{"x":0.767,"y":0.2,"u":0.001},{"x":0.767,"y":0.467,"u":0.026},{"x":0.767,"y":0.6,"u":0.075},{"x":0.767,"y":0.7,"u":0.134},{"x":0.767,"y":0.8,"u":0.203},{"x":0.767,"y":0.9,"u":0.26},{"x":0.767,"y":1,"u":0.283},{"x":0.767,"y":1.1,"u":0.26},{"x":0.767,"y":1.2,"u":0.203},
{"x":0.8,"y":0.2,"u":0.002},{"x":0.8,"y":0.467,"u":0.029},{"x":0.8,"y":0.6,"u":0.083},{"x":0.8,"y":0.7,"u":0.148},{"x":0.8,"y":0.8,"u":0.224},{"x":0.8,"y":0.9,"u":0.288},{"x":0.8,"y":1,"u":0.313},{"x":0.8,"y":1.1,"u":0.288},{"x":0.8,"y":1.167,"u":0.248},
{"x":0.833,"y":0.2,"u":0.002},{"x":0.833,"y":0.467,"u":0.032},{"x":0.833,"y":0.6,"u":0.09},{"x":0.833,"y":0.7,"u":0.161},{"x":0.833,"y":0.8,"u":0.244},{"x":0.833,"y":0.9,"u":0.314},{"x":0.833,"y":1,"u":0.341},{"x":0.833,"y":1.1,"u":0.314},{"x":0.833,"y":1.133,"u":0.294},
{"x":0.867,"y":0.2,"u":0.002},{"x":0.867,"y":0.467,"u":0.034},{"x":0.867,"y":0.6,"u":0.096},{"x":0.867,"y":0.7,"u":0.171},{"x":0.867,"y":0.8,"u":0.26},{"x":0.867,"y":0.9,"u":0.334},{"x":0.867,"y":1,"u":0.363},{"x":0.867,"y":1.1,"u":0.334},
{"x":0.9,"y":0.2,"u":0.002},{"x":0.9,"y":0.467,"u":0.036},{"x":0.9,"y":0.6,"u":0.1},{"x":0.9,"y":0.7,"u":0.18},{"x":0.9,"y":0.8,"u":0.273},{"x":0.9,"y":0.9,"u":0.351},{"x":0.9,"y":1,"u":0.381},{"x":0.9,"y":1.067,"u":0.367},
{"x":0.933,"y":0.2,"u":0.002},{"x":0.933,"y":0.467,"u":0.037},{"x":0.933,"y":0.6,"u":0.103},{"x":0.933,"y":0.7,"u":0.185},{"x":0.933,"y":0.8,"u":0.28},{"x":0.933,"y":0.9,"u":0.36},{"x":0.933,"y":1,"u":0.391},{"x":0.933,"y":1.033,"u":0.387},
{"x":0.967,"y":0.2,"u":0.002},{"x":0.967,"y":0.467,"u":0.037},{"x":0.967,"y":0.6,"u":0.104},{"x":0.967,"y":0.7,"u":0.187},{"x":0.967,"y":0.8,"u":0.283},{"x":0.967,"y":0.9,"u":0.363},{"x":0.967,"y":1,"u":0.395},{"x":0.967,"y":1.033,"u":0.391},
{"x":1,"y":0.2,"u":0.002},{"x":1,"y":0.467,"u":0.037},{"x":1,"y":0.6,"u":0.103},{"x":1,"y":0.7,"u":0.185},{"x":1,"y":0.8,"u":0.28},{"x":1,"y":0.9,"u":0.36},{"x":1,"y":1,"u":0.391},
{"x":1.033,"y":0.2,"u":0.002},{"x":1.033,"y":0.467,"u":0.036},{"x":1.033,"y":0.6,"u":0.1},{"x":1.033,"y":0.7,"u":0.18},{"x":1.033,"y":0.8,"u":0.273},{"x":1.033,"y":0.9,"u":0.351},{"x":1.033,"y":0.967,"u":0.377},
{"x":1.067,"y":0.2,"u":0.002},{"x":1.067,"y":0.467,"u":0.034},{"x":1.067,"y":0.6,"u":0.096},{"x":1.067,"y":0.7,"u":0.171},{"x":1.067,"y":0.8,"u":0.26},{"x":1.067,"y":0.9,"u":0.334},{"x":1.067,"y":0.933,"u":0.35},
{"x":1.1,"y":0.2,"u":0.002},{"x":1.1,"y":0.467,"u":0.032},{"x":1.1,"y":0.6,"u":0.09},{"x":1.1,"y":0.7,"u":0.161},{"x":1.1,"y":0.8,"u":0.244},{"x":1.1,"y":0.9,"u":0.314},{"x":1.1,"y":0.933,"u":0.329},
{"x":1.133,"y":0.2,"u":0.002},{"x":1.133,"y":0.467,"u":0.029},{"x":1.133,"y":0.6,"u":0.083},{"x":1.133,"y":0.7,"u":0.148},{"x":1.133,"y":0.8,"u":0.224},{"x":1.133,"y":0.9,"u":0.288},
{"x":1.167,"y":0.2,"u":0.001},{"x":1.167,"y":0.467,"u":0.026},{"x":1.167,"y":0.6,"u":0.075},{"x":1.167,"y":0.7,"u":0.134},{"x":1.167,"y":0.8,"u":0.203},{"x":1.167,"y":0.867,"u":0.244},
{"x":1.2,"y":0.2,"u":0.001},{"x":1.2,"y":0.467,"u":0.023},{"x":1.2,"y":0.6,"u":0.066},{"x":1.2,"y":0.7,"u":0.119},{"x":1.2,"y":0.8,"u":0.18},{"x":1.2,"y":0.867,"u":0.216},
{"x":1.233,"y":0.2,"u":0.001},{"x":1.233,"y":0.467,"u":0.02},{"x":1.233,"y":0.6,"u":0.057},{"x":1.233,"y":0.7,"u":0.103},{"x":1.233,"y":0.8,"u":0.156},{"x":1.233,"y":0.833,"u":0.173},
{"x":1.267,"y":0.2,"u":0.001},{"x":1.267,"y":0.467,"u":0.017},{"x":1.267,"y":0.6,"u":0.049},{"x":1.267,"y":0.7,"u":0.088},{"x":1.267,"y":0.8,"u":0.134},{"x":1.267,"y":0.833,"u":0.148},
{"x":1.3,"y":0.2,"u":0.001},{"x":1.3,"y":0.467,"u":0.015},{"x":1.3,"y":0.6,"u":0.041},{"x":1.3,"y":0.7,"u":0.074},{"x":1.3,"y":0.8,"u":0.112},
{"x":1.333,"y":0.2,"u":0.001},{"x":1.333,"y":0.467,"u":0.012},{"x":1.333,"y":0.6,"u":0.034},{"x":1.333,"y":0.7,"u":0.061},{"x":1.333,"y":0.8,"u":0.092},
{"x":1.367,"y":0.2,"u":0},{"x":1.367,"y":0.467,"u":0.01},{"x":1.367,"y":0.6,"u":0.027},{"x":1.367,"y":0.7,"u":0.049},{"x":1.367,"y":0.8,"u":0.075},
{"x":1.4,"y":0.2,"u":0},{"x":1.4,"y":0.467,"u":0.008},{"x":1.4,"y":0.6,"u":0.022},{"x":1.4,"y":0.7,"u":0.039},{"x":1.4,"y":0.8,"u":0.059},
{"x":1.433,"y":0.2,"u":0},{"x":1.433,"y":0.467,"u":0.006},{"x":1.433,"y":0.6,"u":0.017},{"x":1.433,"y":0.7,"u":0.03},{"x":1.433,"y":0.8,"u":0.046},
{"x":1.467,"y":0.2,"u":0},{"x":1.467,"y":0.467,"u":0.005},{"x":1.467,"y":0.6,"u":0.013},{"x":1.467,"y":0.7,"u":0.023},{"x":1.467,"y":0.8,"u":0.035},{"x":1.467,"y":0.833,"u":0.039},
{"x":1.5,"y":0.2,"u":0},{"x":1.5,"y":0.467,"u":0.003},{"x":1.5,"y":0.6,"u":0.01},{"x":1.5,"y":0.7,"u":0.017},{"x":1.5,"y":0.8,"u":0.027},{"x":1.5,"y":0.867,"u":0.032},
{"x":1.533,"y":0.2,"u":0},{"x":1.533,"y":0.467,"u":0.003},{"x":1.533,"y":0.6,"u":0.007},{"x":1.533,"y":0.7,"u":0.013},{"x":1.533,"y":0.8,"u":0.019},{"x":1.533,"y":0.9,"u":0.025},
{"x":1.567,"y":0.2,"u":0},{"x":1.567,"y":0.467,"u":0.002},{"x":1.567,"y":0.6,"u":0.005},{"x":1.567,"y":0.7,"u":0.009},{"x":1.567,"y":0.8,"u":0.014},{"x":1.567,"y":0.9,"u":0.018},{"x":1.567,"y":1,"u":0.02},
{"x":1.6,"y":0.2,"u":0},{"x":1.6,"y":0.467,"u":0.001},{"x":1.6,"y":0.6,"u":0.004},{"x":1.6,"y":0.7,"u":0.007},{"x":1.6,"y":0.8,"u":0.01},{"x":1.6,"y":0.9,"u":0.013},{"x":1.6,"y":1,"u":0.014},
{"x":1.633,"y":0.2,"u":0},{"x":1.633,"y":0.467,"u":0.001},{"x":1.633,"y":0.6,"u":0.003},{"x":1.633,"y":0.7,"u":0.005},{"x":1.633,"y":0.8,"u":0.007},{"x":1.633,"y":0.9,"u":0.009},{"x":1.633,"y":1,"u":0.01},{"x":1.633,"y":1.1,"u":0.009},
{"x":1.667,"y":0.2,"u":0},{"x":1.667,"y":0.467,"u":0.001},{"x":1.667,"y":0.6,"u":0.002},{"x":1.667,"y":0.7,"u":0.003},{"x":1.667,"y":0.8,"u":0.005},{"x":1.667,"y":0.9,"u":0.006},{"x":1.667,"y":1,"u":0.007},{"x":1.667,"y":1.1,"u":0.006}],
"rim":[{"x":0.687,"y":1.453,"u":0.037},{"x":0.676,"y":1.358,"u":0.067},{"x":0.695,"y":1.301,"u":0.1},{"x":0.754,"y":1.215,"u":0.184},{"x":0.825,"y":1.143,"u":0.282},{"x":0.9,"y":1.077,"u":0.363},{"x":0.978,"y":1.014,"u":0.394},{"x":1.057,"y":0.953,"u":0.363},{"x":1.139,"y":0.896,"u":0.282},{"x":1.226,"y":0.844,"u":0.184},{"x":1.324,"y":0.807,"u":0.1},{"x":1.384,"y":0.802,"u":0.067},{"x":1.473,"y":0.835,"u":0.037}],
"zlabels":[{"x":0,"y":2.09,"u":0,"t":"0"},{"x":0,"y":2.09,"u":0.1,"t":"0.1"},{"x":0,"y":2.09,"u":0.2,"t":"0.2"},{"x":0,"y":2.09,"u":0.3,"t":"0.3"},{"x":0,"y":2.09,"u":0.4,"t":"0.4"},{"x":0,"y":2.09,"u":0.5,"t":"0.5"},
{"x":-0.175,"y":-0.132,"u":0,"t":"0"},{"x":-0.175,"y":0.068,"u":0,"t":"0.2"},{"x":-0.175,"y":0.268,"u":0,"t":"0.4"},{"x":-0.175,"y":0.468,"u":0,"t":"0.6"},{"x":-0.175,"y":0.668,"u":0,"t":"0.8"},{"x":-0.175,"y":0.868,"u":0,"t":"1"},{"x":-0.175,"y":1.068,"u":0,"t":"1.2"},{"x":-0.175,"y":1.268,"u":0,"t":"1.4"},{"x":-0.175,"y":1.468,"u":0,"t":"1.6"},{"x":-0.175,"y":1.668,"u":0,"t":"1.8"},{"x":-0.175,"y":1.868,"u":0,"t":"2"}],
"xlabels":[{"x":-0.091,"y":-0.207,"u":0,"t":"0"},{"x":0.109,"y":-0.207,"u":0,"t":"0.2"},{"x":0.309,"y":-0.207,"u":0,"t":"0.4"},{"x":0.509,"y":-0.207,"u":0,"t":"0.6"},{"x":0.709,"y":-0.207,"u":0,"t":"0.8"},{"x":0.909,"y":-0.207,"u":0,"t":"1"},{"x":1.109,"y":-0.207,"u":0,"t":"1.2"},{"x":1.309,"y":-0.207,"u":0,"t":"1.4"},{"x":1.509,"y":-0.207,"u":0,"t":"1.6"},{"x":1.709,"y":-0.207,"u":0,"t":"1.8"},{"x":1.909,"y":-0.207,"u":0,"t":"2"}]
},
"layer":[
{"data":{"name":"walls"},"transform":[{"calculate":"1511+839.5*datum.x-659.5*datum.y","as":"sx"},{"calculate":"1126-87*datum.x-111.5*datum.y-1248*datum.u","as":"sy"},{"calculate":"1511+839.5*datum.x2-659.5*datum.y2","as":"ex"},{"calculate":"1126-87*datum.x2-111.5*datum.y2-1248*datum.u2","as":"ey"}],"mark":{"type":"rule","stroke":"#dedede","strokeWidth":1.6},"encoding":{"x2":{"field":"ex"},"y2":{"field":"ey"}}},
{"data":{"name":"floor"},"transform":[{"window":[{"op":"row_number","as":"n"}]},{"calculate":"1511+839.5*datum.x-659.5*datum.y","as":"sx"},{"calculate":"1126-87*datum.x-111.5*datum.y-1248*datum.u","as":"sy"}],"mark":{"type":"line","fill":"#1f1670","stroke":"#111111","strokeWidth":1.5,"interpolate":"linear-closed"},"encoding":{"order":{"field":"n"}}},
{"data":{"name":"mesh"},"transform":[{"calculate":"1511+839.5*datum.t","as":"sx"},{"calculate":"1126-87*datum.t","as":"sy"},{"calculate":"datum.sx-1319","as":"ex"},{"calculate":"datum.sy-223","as":"ey"}],"mark":{"type":"rule","stroke":"#08061a","strokeWidth":2.6},"encoding":{"x2":{"field":"ex"},"y2":{"field":"ey"}}},
{"data":{"name":"mesh"},"transform":[{"calculate":"1511-659.5*datum.t","as":"sx"},{"calculate":"1126-111.5*datum.t","as":"sy"},{"calculate":"datum.sx+1679","as":"ex"},{"calculate":"datum.sy-174","as":"ey"}],"mark":{"type":"rule","stroke":"#08061a","strokeWidth":2.6},"encoding":{"x2":{"field":"ex"},"y2":{"field":"ey"}}},
{"data":{"name":"rings"},"transform":[{"window":[{"op":"row_number","as":"n"}]},{"calculate":"1511+839.5*datum.x-659.5*datum.y","as":"sx"},{"calculate":"1126-87*datum.x-111.5*datum.y-1248*datum.u","as":"sy"}],"mark":{"type":"line","interpolate":"cardinal-closed","strokeWidth":0,"stroke":null},"encoding":{"detail":{"field":"u"},"order":{"field":"n"},"fill":{"field":"u","type":"quantitative","legend":null,"scale":{"domain":[0,0.012,0.035,0.056,0.113,0.169,0.226,0.282,0.339,0.395],"range":["#14103f","#1f1670","#3E26A8","#4752F4","#2D87F7","#11B1D6","#37C897","#ABC739","#FEC338","#F9FB14"]}}}},
{"data":{"name":"alongX"},"transform":[{"window":[{"op":"row_number","as":"n"}]},{"calculate":"1511+839.5*datum.x-659.5*datum.y","as":"sx"},{"calculate":"1126-87*datum.x-111.5*datum.y-1248*datum.u","as":"sy"}],"mark":{"type":"line","interpolate":"catmull-rom","stroke":"#0a0820","strokeWidth":1.9},"encoding":{"detail":{"field":"y"},"order":{"field":"n"}}},
{"data":{"name":"alongY"},"transform":[{"window":[{"op":"row_number","as":"n"}]},{"calculate":"1511+839.5*datum.x-659.5*datum.y","as":"sx"},{"calculate":"1126-87*datum.x-111.5*datum.y-1248*datum.u","as":"sy"}],"mark":{"type":"line","interpolate":"catmull-rom","stroke":"#0a0820","strokeWidth":1.9},"encoding":{"detail":{"field":"x"},"order":{"field":"n"}}},
{"data":{"name":"rim"},"transform":[{"window":[{"op":"row_number","as":"n"}]},{"calculate":"1511+839.5*datum.x-659.5*datum.y","as":"sx"},{"calculate":"1126-87*datum.x-111.5*datum.y-1248*datum.u","as":"sy"}],"mark":{"type":"line","interpolate":"catmull-rom","stroke":"#0a0820","strokeWidth":1.8},"encoding":{"order":{"field":"n"}}},
{"data":{"name":"axes"},"transform":[{"calculate":"1511+839.5*datum.x-659.5*datum.y","as":"sx"},{"calculate":"1126-87*datum.x-111.5*datum.y-1248*datum.u","as":"sy"},{"calculate":"1511+839.5*datum.x2-659.5*datum.y2","as":"ex"},{"calculate":"1126-87*datum.x2-111.5*datum.y2-1248*datum.u2","as":"ey"}],"mark":{"type":"rule","stroke":"#333333","strokeWidth":1.6},"encoding":{"x2":{"field":"ex"},"y2":{"field":"ey"}}},
{"data":{"name":"zlabels"},"transform":[{"calculate":"1511+839.5*datum.x-659.5*datum.y","as":"sx"},{"calculate":"1126-87*datum.x-111.5*datum.y-1248*datum.u","as":"sy"}],"mark":{"type":"text","align":"right","baseline":"middle","dy":3,"font":"Liberation Sans","fontSize":35,"color":"#262626"},"encoding":{"text":{"field":"t"}}},
{"data":{"name":"xlabels"},"transform":[{"calculate":"1511+839.5*datum.x-659.5*datum.y","as":"sx"},{"calculate":"1126-87*datum.x-111.5*datum.y-1248*datum.u","as":"sy"}],"mark":{"type":"text","align":"left","baseline":"middle","dy":3,"font":"Liberation Sans","fontSize":35,"color":"#262626"},"encoding":{"text":{"field":"t"}}},
{"data":{"values":[{"t":"y-axis"}]},"mark":{"type":"text","font":"Liberation Sans","fontSize":35,"color":"#262626"},"encoding":{"x":{"value":985},"y":{"value":1176},"text":{"field":"t"}}},
{"data":{"values":[{"t":"x-axis"}]},"mark":{"type":"text","font":"Liberation Sans","fontSize":35,"color":"#262626"},"encoding":{"x":{"value":2123},"y":{"value":1189},"text":{"field":"t"}}},
{"data":{"values":[{"t":"Numerical solution"}]},"mark":{"type":"text","font":"Liberation Sans","fontSize":35,"color":"#262626","angle":270},"encoding":{"x":{"value":44},"y":{"value":594},"text":{"field":"t"}}},
{"data":{"values":[{"t":"2"}]},"mark":{"type":"text","align":"left","baseline":"alphabetic","font":"Liberation Sans","fontSize":26,"fontWeight":"bold","color":"#000000"},"encoding":{"x":{"value":1890},"y":{"value":92},"text":{"field":"t"}}},
{"data":{"values":[{"t":"box"}]},"mark":{"type":"rect","fill":"#ffffff","fillOpacity":0,"stroke":"#333333","strokeWidth":2},"encoding":{"x":{"value":2234},"x2":{"value":2408},"y":{"value":310},"y2":{"value":506}}},
{"data":{"values":[{"t":"N=100"}]},"mark":{"type":"text","align":"left","font":"Liberation Sans","fontSize":35,"color":"#000000"},"encoding":{"x":{"value":2253},"y":{"value":342},"text":{"field":"t"}}},
{"data":{"values":[{"t":"M=10"}]},"mark":{"type":"text","align":"left","font":"Liberation Sans","fontSize":35,"color":"#000000"},"encoding":{"x":{"value":2253},"y":{"value":385},"text":{"field":"t"}}},
{"data":{"values":[{"t":"δ"}]},"mark":{"type":"text","align":"left","font":"Liberation Serif","fontStyle":"italic","fontSize":35,"color":"#000000"},"encoding":{"x":{"value":2253},"y":{"value":429},"text":{"field":"t"}}},
{"data":{"values":[{"t":"=1"}]},"mark":{"type":"text","align":"left","font":"Liberation Sans","fontSize":35,"color":"#000000"},"encoding":{"x":{"value":2270},"y":{"value":429},"text":{"field":"t"}}},
{"data":{"values":[{"t":"η"}]},"mark":{"type":"text","align":"left","font":"Liberation Serif","fontStyle":"italic","fontSize":35,"color":"#000000"},"encoding":{"x":{"value":2253},"y":{"value":474},"text":{"field":"t"}}},
{"data":{"values":[{"t":"=2"}]},"mark":{"type":"text","align":"left","font":"Liberation Sans","fontSize":35,"color":"#000000"},"encoding":{"x":{"value":2272},"y":{"value":472},"text":{"field":"t"}}}
]}
